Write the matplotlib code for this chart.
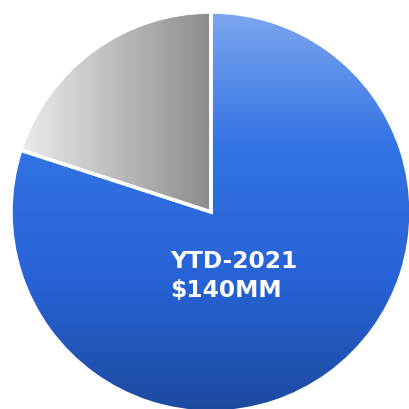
import numpy as np
import matplotlib
matplotlib.use("Agg")
import matplotlib.pyplot as plt
from matplotlib.colors import LinearSegmentedColormap

# ── data ──────────────────────────────────────────────────────────────────
labels = ["YTD-2021", "Remaining"]
values = [140, 35]          # $MM
label_text = "YTD-2021\n$140MM"

# ── styling ───────────────────────────────────────────────────────────────
BLUE_RAMP = ["#7ca6ef", "#3373e3", "#2763d6", "#1d4a9f"]
GRAY_RAMP = ["#ececec", "#8c8c8c"]
W, H = 410, 410
CX, CY, R = 211, 197, 200

fig = plt.figure(figsize=(W / 100, H / 100), dpi=100)
ax = fig.add_axes([0, 0, 1, 1])

wedges, _ = ax.pie(values, startangle=90, counterclock=False,
                   center=(CX, CY), radius=R, frame=True,
                   wedgeprops=dict(facecolor="none", edgecolor="white", linewidth=2.5))
ax.set_xlim(0, W)
ax.set_ylim(0, H)
ax.set_aspect("equal")
ax.axis("off")


def gradient_fill(wedge, colors, vertical):
    cmap = LinearSegmentedColormap.from_list("g", colors)
    bb = wedge.get_window_extent()
    inv = ax.transData.inverted()
    (dx0, dy0), (dx1, dy1) = inv.transform([[bb.x0, bb.y0], [bb.x1, bb.y1]])
    grad = np.linspace(0, 1, 256)
    if vertical:
        img = grad.reshape(-1, 1)         # light on top
    else:
        img = grad.reshape(1, -1)         # light on left
    im = ax.imshow(img, cmap=cmap, extent=[dx0, dx1, dy0, dy1],
                   origin="upper", aspect="auto", zorder=0.5, interpolation="bilinear")
    im.set_clip_path(wedge)


fig.canvas.draw()
gradient_fill(wedges[0], BLUE_RAMP, vertical=True)
gradient_fill(wedges[1], GRAY_RAMP, vertical=False)
for w in wedges:
    w.set_zorder(2)

ax.text(170, H - 250, label_text, color="white", fontsize=16.8, fontweight="bold",
        family="DejaVu Sans", ha="left", va="top", linespacing=1.32, zorder=3)

fig.savefig("out.png", dpi=100, facecolor="white")
